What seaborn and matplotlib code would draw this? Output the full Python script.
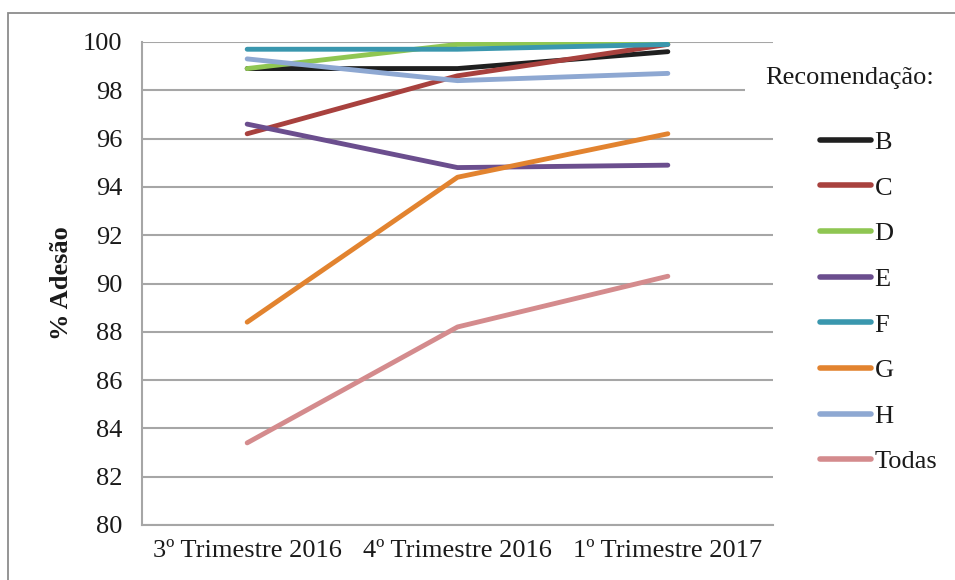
import matplotlib
matplotlib.use("Agg")
import matplotlib.pyplot as plt
from matplotlib.patches import Rectangle
import seaborn as sns
import pandas as pd

# Quarterly adherence (%) per recommendation
quarters = ["3º Trimestre 2016", "4º Trimestre 2016", "1º Trimestre 2017"]
rec_B = [98.9, 98.9, 99.6]
rec_C = [96.2, 98.6, 99.9]
rec_D = [98.9, 99.9, 100.0]
rec_E = [96.6, 94.8, 94.9]
rec_F = [99.7, 99.7, 99.9]
rec_G = [88.4, 94.4, 96.2]
rec_H = [99.3, 98.4, 98.7]
rec_todas = [83.4, 88.2, 90.3]
y_ticks = [80, 82, 84, 86, 88, 90, 92, 94, 96, 98, 100]

series_names = ["B", "C", "D", "E", "F", "G", "H", "Todas"]
series_values = [rec_B, rec_C, rec_D, rec_E, rec_F, rec_G, rec_H, rec_todas]
colors = ["#1f1f1f", "#a8413e", "#8fc652", "#6b4e8e", "#3a97ae",
          "#e2832f", "#8ea8d2", "#d48b8d"]

rows = []
for name, vals in zip(series_names, series_values):
    for i, v in enumerate(vals):
        rows.append({"pos": i, "Trimestre": quarters[i], "Recomendação": name, "Adesão": v})
df = pd.DataFrame(rows)

sns.set_theme(style="white")
plt.rcParams["font.family"] = ["Liberation Serif", "DejaVu Serif"]

FS = 19
W, H = 955, 580
fig = plt.figure(figsize=(W / 100, H / 100), dpi=100)
ax = fig.add_axes([142 / W, 1 - 525 / H, (773 - 142) / W, (525 - 42) / H])

sns.lineplot(data=df, x="pos", y="Adesão", hue="Recomendação",
             hue_order=series_names, palette=colors, linewidth=3.5,
             ax=ax, legend=True, solid_capstyle="round")

ax.set_xlim(-0.5, 2.5)
ax.set_ylim(80, 100)
ax.set_yticks(y_ticks)
ax.set_yticklabels([str(t) for t in y_ticks])
ax.set_xticks(range(len(quarters)))
ax.set_xticklabels(quarters)
ax.tick_params(axis="both", length=0, labelsize=FS, colors="#1a1a1a")
ax.tick_params(axis="y", pad=14)
ax.tick_params(axis="x", pad=11)
ax.set_xlabel("")
ax.set_ylabel("% Adesão", fontsize=19, fontweight="bold", labelpad=7, color="#1a1a1a")
ax.yaxis.grid(True, color="#a6a6a6", linewidth=1.5)
ax.set_axisbelow(True)
for side in ["top", "right"]:
    ax.spines[side].set_visible(False)
for side in ["left", "bottom"]:
    ax.spines[side].set_color("#a6a6a6")
    ax.spines[side].set_linewidth(1.5)

handles, labels = ax.get_legend_handles_labels()
ax.get_legend().remove()
leg = fig.legend(handles, labels, loc="upper left",
                 bbox_to_anchor=(820 / W, 1 - 130.5 / H), frameon=False,
                 fontsize=FS, handlelength=1.95, handletextpad=0.12,
                 labelspacing=0.84, borderaxespad=0, borderpad=0)
for line in leg.get_lines():
    line.set_linewidth(4)
for t in leg.get_texts():
    t.set_color("#1a1a1a")

# Legend title with a white backing over the gridline end
fig.patches.append(Rectangle((745 / W, 1 - 96 / H), 40 / W, 12 / H,
                             transform=fig.transFigure, facecolor="white",
                             edgecolor="none", zorder=2))
fig.text(765 / W, 1 - 78 / H, "Recomendação:", fontsize=FS, color="#1a1a1a",
         ha="left", va="center", zorder=3)

# Outer frame of the chart area
fig.patches.append(Rectangle((7.5 / W, -0.1), 1.1, 1 - 12.5 / H + 0.1,
                             transform=fig.transFigure, facecolor="none",
                             edgecolor="#8c8c8c", linewidth=1.3, zorder=1))

fig.savefig("out.png", dpi=100)
